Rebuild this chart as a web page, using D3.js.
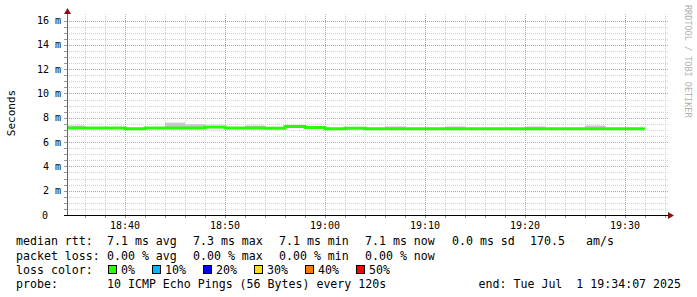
<!DOCTYPE html>
<html>
<head>
<meta charset="utf-8">
<script src="https://cdn.jsdelivr.net/npm/d3@7"></script>
<style>
body { margin: 0; background: #fff; }
svg { display: block; font-family: "DejaVu Sans Mono", monospace; }
</style>
</head>
<body>
<svg width="697" height="297"></svg>
<script>
// 2-minute RRD steps, start time of each step
let stepStarts = ["18:34","18:36","18:38","18:40","18:42","18:44","18:46","18:48","18:50","18:52",
    "18:54","18:56","18:58","19:00","19:02","19:04","19:06","19:08","19:10","19:12",
    "19:14","19:16","19:18","19:20","19:22","19:24","19:26","19:28","19:30"];
let dataEnd = "19:32";
// median rtt in ms
let medianRtt = [7.16,7.16,7.16,7.09,7.16,7.16,7.16,7.25,7.16,7.16,
    7.14,7.29,7.20,7.09,7.15,7.10,7.10,7.10,7.10,7.10,
    7.10,7.10,7.10,7.10,7.10,7.10,7.10,7.10,7.10];
// smoke (spread of the 10 pings) in ms
let smokeHigh = [7.37,7.20,7.20,7.13,7.20,7.60,7.46,7.30,7.20,7.37,
    7.18,7.33,7.24,7.13,7.19,7.14,7.29,7.14,7.14,7.29,
    7.14,7.14,7.14,7.29,7.14,7.14,7.37,7.14,7.14];
let smokeLow = [7.08,7.10,7.10,7.04,7.10,7.10,7.10,7.18,7.10,7.10,
    7.08,7.22,7.14,7.04,7.09,7.05,7.05,7.05,7.05,7.05,
    7.05,7.05,7.05,7.05,7.05,7.05,7.05,7.05,7.05];
let yTicks = [0, 2, 4, 6, 8, 10, 12, 14, 16];
let lossLabels = ["0%", "10%", "20%", "30%", "40%", "50%"];
let lossColors = ["#26ff00", "#00b8ff", "#0000ff", "#ffe000", "#ff7800", "#ff0000"];
let rttStats = ["7.1 ms avg", "7.3 ms max", "7.1 ms min", "7.1 ms now", "0.0 ms sd", "170.5", "am/s"];
let lossStats = ["0.00 % avg", "0.00 % max", "0.00 % min", "0.00 % now"];

let svg = d3.select('svg');
let parse = (s) => d3.timeParse("%Y-%m-%d %H:%M")("2025-07-01 " + s);
let t0 = new Date(2025, 6, 1, 18, 34, 12);
let t1 = new Date(2025, 6, 1, 19, 34, 12);

let plotLeft = 67, plotRight = 667, plotTop = 15, plotBottom = 215;
let xScale = d3.scaleTime().domain([t0, t1]).range([plotLeft, plotRight]);
let yScale = d3.scaleLinear().domain([0, 200 / 12.15]).range([plotBottom, plotTop]);
let px = (v) => Math.round(v) + 0.5;

// grid
let grid = svg.append('g').attr('fill', 'none').attr('stroke-dasharray', '1,1');
let minorY = d3.range(0.5, 16.01, 0.5);
grid.selectAll('.hmin').data(minorY).enter().append('line')
    .attr('x1', plotLeft).attr('x2', plotRight + 1)
    .attr('y1', (d) => px(yScale(d))).attr('y2', (d) => px(yScale(d)))
    .attr('stroke', '#d2d2d2');
let minorX = d3.timeMinute.every(2).range(t0, t1);
grid.selectAll('.vmin').data(minorX).enter().append('line')
    .attr('x1', (d) => px(xScale(d))).attr('x2', (d) => px(xScale(d)))
    .attr('y1', plotTop - 1).attr('y2', plotBottom)
    .attr('stroke', '#d2d2d2');
grid.selectAll('.hmaj').data(yTicks.slice(1)).enter().append('line')
    .attr('x1', plotLeft).attr('x2', plotRight + 1)
    .attr('y1', (d) => px(yScale(d))).attr('y2', (d) => px(yScale(d)))
    .attr('stroke', '#e89090');
let majorX = d3.timeMinute.every(10).range(t0, t1);
grid.selectAll('.vmaj').data(majorX).enter().append('line')
    .attr('x1', (d) => px(xScale(d))).attr('x2', (d) => px(xScale(d)))
    .attr('y1', plotTop - 1).attr('y2', plotBottom)
    .attr('stroke', '#e89090');

// smoke and median
let steps = stepStarts.map((s, i) => ({
    a: d3.max([parse(s), t0]),
    b: i + 1 < stepStarts.length ? parse(stepStarts[i + 1]) : parse(dataEnd),
    med: medianRtt[i], hi: smokeHigh[i], lo: smokeLow[i]
}));
svg.append('g').selectAll('rect').data(steps).enter().append('rect')
    .attr('x', (d) => xScale(d.a))
    .attr('width', (d) => xScale(d.b) - xScale(d.a))
    .attr('y', (d) => yScale(d.hi))
    .attr('height', (d) => yScale(d.lo) - yScale(d.hi))
    .attr('fill', '#c8c8c8');

let linePts = steps.map((d) => [d.a, d.med]);
linePts.push([steps[steps.length - 1].b, steps[steps.length - 1].med]);
svg.append('path')
    .attr('d', d3.line().x((d) => xScale(d[0])).y((d) => yScale(d[1])).curve(d3.curveStepAfter)(linePts))
    .attr('fill', 'none')
    .attr('stroke', lossColors[0])
    .attr('stroke-width', 3);

// ticks
let ticks = svg.append('g').attr('stroke', '#999');
ticks.selectAll('.yt').data(d3.range(0, 16.01, 0.5)).enter().append('line')
    .attr('x1', plotLeft - 3).attr('x2', plotLeft)
    .attr('y1', (d) => px(yScale(d))).attr('y2', (d) => px(yScale(d)));
ticks.selectAll('.xt').data(minorX).enter().append('line')
    .attr('x1', (d) => px(xScale(d))).attr('x2', (d) => px(xScale(d)))
    .attr('y1', plotBottom).attr('y2', plotBottom + 3);

// axes
svg.append('line').attr('x1', plotLeft + 0.5).attr('x2', plotLeft + 0.5)
    .attr('y1', 10).attr('y2', plotBottom + 1).attr('stroke', '#666');
svg.append('line').attr('x1', plotLeft - 3).attr('x2', 669)
    .attr('y1', plotBottom + 0.5).attr('y2', plotBottom + 0.5).attr('stroke', '#000');
svg.append('path').attr('d', 'M64,14 L71,14 L67.5,8 Z').attr('fill', '#8b1010');
svg.append('path').attr('d', 'M668,212 L668,219 L674,215.5 Z').attr('fill', '#8b1010');

// tick labels
svg.append('g').selectAll('text').data(yTicks).enter().append('text')
    .attr('x', (d) => d === 0 ? 48 : 61)
    .attr('y', (d) => yScale(d) + 3.5)
    .attr('text-anchor', 'end')
    .style('font-size', '10px')
    .text((d) => d === 0 ? '0' : d + ' m');
svg.append('g').selectAll('text').data(majorX).enter().append('text')
    .attr('x', (d) => xScale(d))
    .attr('y', 229)
    .attr('text-anchor', 'middle')
    .style('font-size', '10px')
    .text(d3.timeFormat('%H:%M'));

svg.append('text')
    .attr('transform', 'translate(15,113) rotate(-90)')
    .attr('text-anchor', 'middle')
    .style('font-size', '11px')
    .text('Seconds');

svg.append('text')
    .attr('transform', 'translate(685,5) rotate(90)')
    .style('font-size', '8.5px')
    .style('fill', '#b0b0b0')
    .text('RRDTOOL / TOBI OETIKER');

// legend
let legend = svg.append('g').style('font-size', '11.6px').style('fill', '#000');
let colX = [107, 193, 279, 365, 452, 530, 586];
legend.append('text').attr('x', 16).attr('y', 245).text('median rtt:');
legend.selectAll('.rs').data(rttStats).enter().append('text')
    .attr('x', (d, i) => colX[i]).attr('y', 245).text((d) => d);
legend.append('text').attr('x', 16).attr('y', 259.5).text('packet loss:');
legend.selectAll('.ls').data(lossStats).enter().append('text')
    .attr('x', (d, i) => colX[i]).attr('y', 259.5).text((d) => d);
legend.append('text').attr('x', 16).attr('y', 274).text('loss color:');
let boxX = [108, 152, 203, 254, 305, 356];
legend.selectAll('rect').data(lossColors).enter().append('rect')
    .attr('x', (d, i) => boxX[i] + 0.5).attr('y', 265.5)
    .attr('width', 8).attr('height', 8)
    .attr('fill', (d) => d).attr('stroke', '#000');
legend.selectAll('.lc').data(lossLabels).enter().append('text')
    .attr('x', (d, i) => boxX[i] + 13).attr('y', 274).text((d) => d);
legend.append('text').attr('x', 16).attr('y', 288).text('probe:');
legend.append('text').attr('x', 107).attr('y', 288).text('10 ICMP Echo Pings (56 Bytes) every 120s');
legend.append('text').attr('x', 681).attr('y', 288).attr('text-anchor', 'end')
    .style('white-space', 'pre').text('end: Tue Jul  1 19:34:07 2025');
</script>
</body>
</html>
